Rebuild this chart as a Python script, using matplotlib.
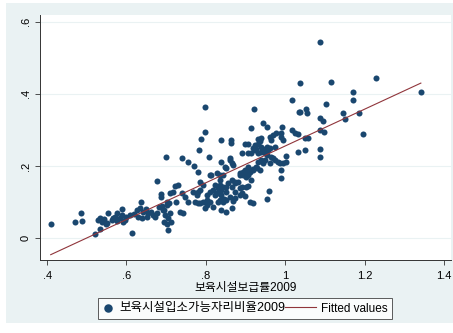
import numpy as np
import matplotlib.pyplot as plt
from matplotlib.patches import Rectangle
from matplotlib.legend_handler import HandlerLine2D

plt.rcParams['font.family'] = ['Liberation Sans', 'Noto Sans CJK KR', 'DejaVu Sans']

# 보육시설보급률2009 (x) / 보육시설입소가능자리비율2009 (y)
x_vals = np.array([
    0.409, 0.469, 0.485, 0.489, 0.521, 0.532, 0.527, 0.533, 0.538, 0.543, 0.548, 0.550, 0.554, 0.563,
    0.567, 0.571, 0.575, 0.577, 0.584, 0.588, 0.589, 0.592, 0.596, 0.600, 0.609, 0.613, 0.620, 0.626,
    0.630, 0.634, 0.636, 0.638, 0.642, 0.649, 0.651, 0.655, 0.662, 0.667, 0.672, 0.676, 0.676, 0.683,
    0.688, 0.689, 0.688, 0.692, 0.694, 0.694, 0.697, 0.699, 0.701, 0.701, 0.701, 0.705, 0.705, 0.708,
    0.709, 0.709, 0.713, 0.718, 0.722, 0.726, 0.730, 0.734, 0.739, 0.741, 0.743, 0.747, 0.755, 0.756,
    0.768, 0.770, 0.772, 0.777, 0.780, 0.780, 0.781, 0.783, 0.785, 0.785, 0.785, 0.789, 0.793, 0.793,
    0.797, 0.797, 0.799, 0.802, 0.802, 0.802, 0.808, 0.810, 0.810, 0.810, 0.814, 0.818, 0.818, 0.823,
    0.823, 0.827, 0.827, 0.831, 0.831, 0.835, 0.835, 0.835, 0.835, 0.835, 0.839, 0.839, 0.839, 0.839,
    0.839, 0.844, 0.844, 0.844, 0.846, 0.848, 0.852, 0.852, 0.852, 0.852, 0.852, 0.856, 0.860, 0.860,
    0.860, 0.863, 0.863, 0.865, 0.865, 0.865, 0.865, 0.869, 0.869, 0.873, 0.873, 0.873, 0.873, 0.881,
    0.886, 0.886, 0.886, 0.886, 0.890, 0.890, 0.892, 0.894, 0.894, 0.898, 0.898, 0.898, 0.902, 0.902,
    0.902, 0.906, 0.906, 0.906, 0.906, 0.906, 0.911, 0.911, 0.911, 0.913, 0.915, 0.915, 0.918, 0.919,
    0.919, 0.919, 0.921, 0.923, 0.923, 0.927, 0.927, 0.928, 0.931, 0.931, 0.932, 0.932, 0.936, 0.936,
    0.940, 0.940, 0.940, 0.940, 0.944, 0.944, 0.944, 0.948, 0.948, 0.948, 0.953, 0.953, 0.953, 0.954,
    0.957, 0.959, 0.961, 0.961, 0.961, 0.965, 0.965, 0.969, 0.969, 0.974, 0.974, 0.978, 0.982, 0.986,
    0.989, 0.990, 0.990, 0.990, 0.993, 0.994, 0.995, 1.003, 1.003, 1.017, 1.018, 1.024, 1.032, 1.032,
    1.036, 1.038, 1.038, 1.049, 1.049, 1.053, 1.054, 1.057, 1.087, 1.087, 1.089, 1.089, 1.089, 1.095,
    1.099, 1.104, 1.116, 1.147, 1.152, 1.170, 1.171, 1.187, 1.197, 1.230, 1.342])
y_vals = np.array([
    0.039, 0.045, 0.069, 0.046, 0.011, 0.024, 0.050, 0.055, 0.045, 0.053, 0.039, 0.041, 0.069, 0.050,
    0.055, 0.059, 0.069, 0.047, 0.055, 0.064, 0.080, 0.045, 0.050, 0.059, 0.064, 0.014, 0.066, 0.078,
    0.059, 0.083, 0.101, 0.055, 0.073, 0.080, 0.059, 0.069, 0.073, 0.064, 0.059, 0.069, 0.158, 0.085,
    0.121, 0.089, 0.115, 0.078, 0.078, 0.045, 0.064, 0.226, 0.092, 0.039, 0.101, 0.055, 0.022, 0.098,
    0.124, 0.069, 0.045, 0.129, 0.144, 0.101, 0.147, 0.073, 0.124, 0.221, 0.069, 0.115, 0.101, 0.212,
    0.129, 0.201, 0.101, 0.119, 0.096, 0.129, 0.182, 0.244, 0.156, 0.133, 0.096, 0.274, 0.147, 0.101,
    0.364, 0.083, 0.294, 0.106, 0.119, 0.092, 0.226, 0.175, 0.129, 0.101, 0.175, 0.133, 0.087, 0.147,
    0.119, 0.124, 0.180, 0.138, 0.101, 0.106, 0.161, 0.175, 0.147, 0.124, 0.272, 0.212, 0.119, 0.133,
    0.078, 0.143, 0.175, 0.101, 0.107, 0.198, 0.194, 0.073, 0.129, 0.143, 0.106, 0.152, 0.223, 0.217,
    0.115, 0.273, 0.263, 0.207, 0.161, 0.143, 0.083, 0.203, 0.104, 0.156, 0.129, 0.152, 0.110, 0.156,
    0.180, 0.138, 0.175, 0.119, 0.124, 0.143, 0.235, 0.175, 0.182, 0.261, 0.117, 0.189, 0.184, 0.143,
    0.170, 0.235, 0.261, 0.175, 0.198, 0.145, 0.184, 0.099, 0.189, 0.305, 0.235, 0.161, 0.098, 0.189,
    0.192, 0.249, 0.358, 0.258, 0.244, 0.247, 0.198, 0.194, 0.260, 0.274, 0.235, 0.212, 0.189, 0.268,
    0.277, 0.240, 0.217, 0.254, 0.318, 0.207, 0.246, 0.244, 0.217, 0.235, 0.308, 0.254, 0.231, 0.108,
    0.244, 0.131, 0.281, 0.207, 0.249, 0.272, 0.226, 0.286, 0.221, 0.217, 0.254, 0.291, 0.212, 0.207,
    0.166, 0.291, 0.189, 0.281, 0.309, 0.272, 0.207, 0.228, 0.212, 0.300, 0.383, 0.291, 0.288, 0.240,
    0.351, 0.430, 0.349, 0.277, 0.244, 0.357, 0.346, 0.277, 0.334, 0.246, 0.544, 0.300, 0.224, 0.326,
    0.293, 0.371, 0.432, 0.346, 0.330, 0.405, 0.384, 0.347, 0.288, 0.444, 0.406])

x_ticks = [0.4, 0.6, 0.8, 1.0, 1.2, 1.4]
x_labels = ['.4', '.6', '.8', '1', '1.2', '1.4']
y_ticks = [0, 0.2, 0.4, 0.6]
y_labels = ['0', '.2', '.4', '.6']

navy = '#1a476f'
maroon = '#90353b'
bg = '#eaf2f3'

fig = plt.figure(figsize=(4.53, 3.33), dpi=100, facecolor='white')
# graph region (light blue) like Stata s2color
fig.patches.append(Rectangle((6 / 453, 10 / 333), 447 / 453, 320 / 333,
                             transform=fig.transFigure, facecolor=bg, edgecolor='none', zorder=-10))

ax = fig.add_axes([40 / 453, 73 / 333, 411 / 453, 245 / 333])
ax.set_facecolor('white')

# linear fit
k, b = np.polyfit(x_vals, y_vals, 1)
x_fit = np.array([x_vals.min(), x_vals.max()])
y_fit = k * x_fit + b

pts = ax.scatter(x_vals, y_vals, s=19, color=navy, linewidths=0, zorder=3,
                 label='보육시설입소가능자리비율2009')
fit_line, = ax.plot(x_fit, y_fit, color=maroon, lw=0.8, zorder=4, label='Fitted values')

ax.set_xlim(0.382, 1.418)
ax.set_ylim(-0.061, 0.619)
ax.set_xticks(x_ticks)
ax.set_xticklabels(x_labels)
ax.set_yticks(y_ticks)
ax.set_yticklabels(y_labels, rotation=90, va='center')
ax.tick_params(labelsize=8, length=3.6, width=0.6, color='#333333', pad=3)
ax.tick_params(axis='x', pad=4.5)
ax.grid(axis='y', color=bg, lw=0.8, zorder=0)
ax.spines['top'].set_visible(False)
ax.spines['right'].set_visible(False)
for s in ['left', 'bottom']:
    ax.spines[s].set_linewidth(0.7)
    ax.spines[s].set_color('#333333')

ax.set_xlabel('보육시설보급률2009', fontsize=8.5, labelpad=0.8)

# short keys; the fitted-values line runs back over the previous label like the Stata legend
leg = fig.legend(handles=[pts, fit_line], loc='center', bbox_to_anchor=(245 / 453, 1 - 308.5 / 333),
                 ncol=2, fontsize=8.5, frameon=True, fancybox=False, handlelength=1.0,
                 columnspacing=1.6, handletextpad=0.45, borderpad=0.35, markerscale=1.4,
                 handler_map={fit_line: HandlerLine2D(xpad=-1.6)})
leg.get_texts()[0].set_fontsize(9)
leg.get_frame().set_edgecolor('#333333')
leg.get_frame().set_linewidth(0.7)

fig.savefig('out.png', dpi=100, facecolor='white')
